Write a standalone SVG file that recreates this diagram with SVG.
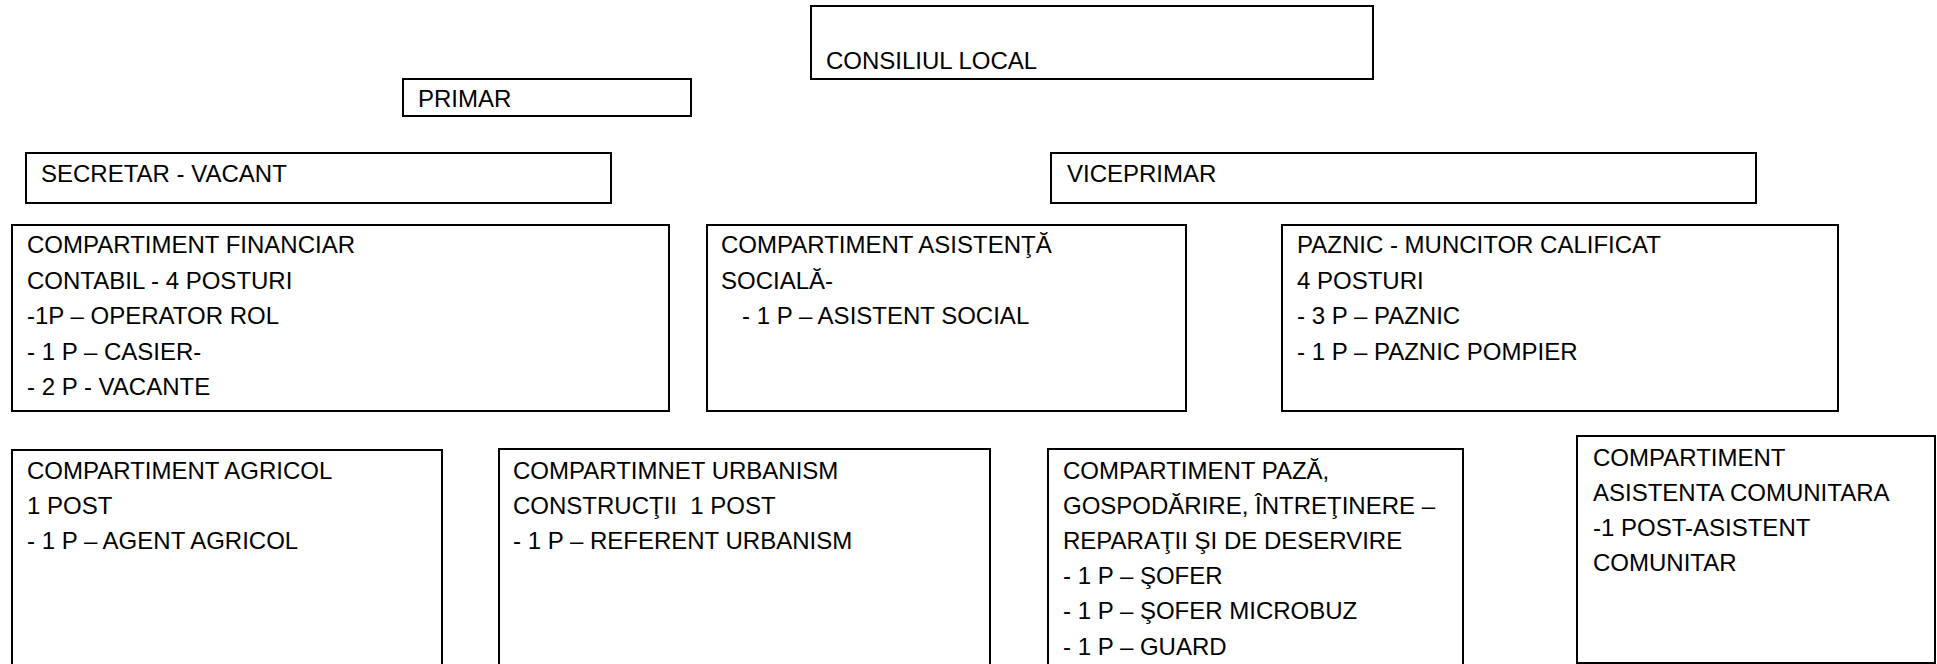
<svg xmlns="http://www.w3.org/2000/svg" width="1937" height="664" viewBox="0 0 1937 664">
<style>
.box{fill:#fff;stroke:#000;stroke-width:2}
.t{font-family:"Liberation Sans",Arial,sans-serif;font-size:24px;fill:#000;white-space:pre}
</style>
<rect x="0" y="0" width="1937" height="664" fill="#fff"/>
<g id="connectors"></g>
<g id="consiliul-local">
<rect class="box" x="811" y="6" width="562" height="73"/>
<text class="t" x="826" y="69">CONSILIUL LOCAL</text>
</g>
<g id="primar">
<rect class="box" x="403" y="79" width="288" height="37"/>
<text class="t" x="418" y="107">PRIMAR</text>
</g>
<g id="secretar">
<rect class="box" x="26" y="153" width="585" height="50"/>
<text class="t" x="41" y="182">SECRETAR - VACANT</text>
</g>
<g id="viceprimar">
<rect class="box" x="1051" y="153" width="705" height="50"/>
<text class="t" x="1067" y="182">VICEPRIMAR</text>
</g>
<g id="financiar">
<rect class="box" x="12" y="225" width="657" height="186"/>
<text class="t" x="27" y="253">COMPARTIMENT FINANCIAR</text>
<text class="t" x="27" y="288.5">CONTABIL - 4 POSTURI</text>
<text class="t" x="27" y="324">-1P – OPERATOR ROL</text>
<text class="t" x="27" y="359.5">- 1 P – CASIER-</text>
<text class="t" x="27" y="395">- 2 P - VACANTE</text>
</g>
<g id="asistenta-sociala">
<rect class="box" x="707" y="225" width="479" height="186"/>
<text class="t" x="721" y="253">COMPARTIMENT ASISTENŢĂ</text>
<text class="t" x="721" y="288.5">SOCIALĂ-</text>
<text class="t" x="742" y="324">- 1 P – ASISTENT SOCIAL</text>
</g>
<g id="paznic">
<rect class="box" x="1282" y="225" width="556" height="186"/>
<text class="t" x="1297" y="253">PAZNIC - MUNCITOR CALIFICAT</text>
<text class="t" x="1297" y="288.5">4 POSTURI</text>
<text class="t" x="1297" y="324">- 3 P – PAZNIC</text>
<text class="t" x="1297" y="359.5">- 1 P – PAZNIC POMPIER</text>
</g>
<g id="agricol">
<rect class="box" x="12" y="450" width="430" height="240"/>
<text class="t" x="27" y="478.5">COMPARTIMENT AGRICOL</text>
<text class="t" x="27" y="513.7">1 POST</text>
<text class="t" x="27" y="548.9">- 1 P – AGENT AGRICOL</text>
</g>
<g id="urbanism">
<rect class="box" x="499" y="449" width="491" height="240"/>
<text class="t" x="513" y="478.5">COMPARTIMNET URBANISM</text>
<text class="t" x="513" y="513.7">CONSTRUCŢII  1 POST</text>
<text class="t" x="513" y="548.9">- 1 P – REFERENT URBANISM</text>
</g>
<g id="paza">
<rect class="box" x="1048" y="449" width="415" height="240"/>
<text class="t" x="1063" y="478.5">COMPARTIMENT PAZĂ,</text>
<text class="t" x="1063" y="513.7">GOSPODĂRIRE, ÎNTREŢINERE –</text>
<text class="t" x="1063" y="548.9">REPARAŢII ŞI DE DESERVIRE</text>
<text class="t" x="1063" y="584.1">- 1 P – ŞOFER</text>
<text class="t" x="1063" y="619.3">- 1 P – ŞOFER MICROBUZ</text>
<text class="t" x="1063" y="654.5">- 1 P – GUARD</text>
</g>
<g id="asistenta-comunitara">
<rect class="box" x="1577" y="436" width="358" height="227"/>
<text class="t" x="1593" y="465.5">COMPARTIMENT</text>
<text class="t" x="1593" y="500.7">ASISTENTA COMUNITARA</text>
<text class="t" x="1593" y="535.9">-1 POST-ASISTENT</text>
<text class="t" x="1593" y="571.1">COMUNITAR</text>
</g>
</svg>
